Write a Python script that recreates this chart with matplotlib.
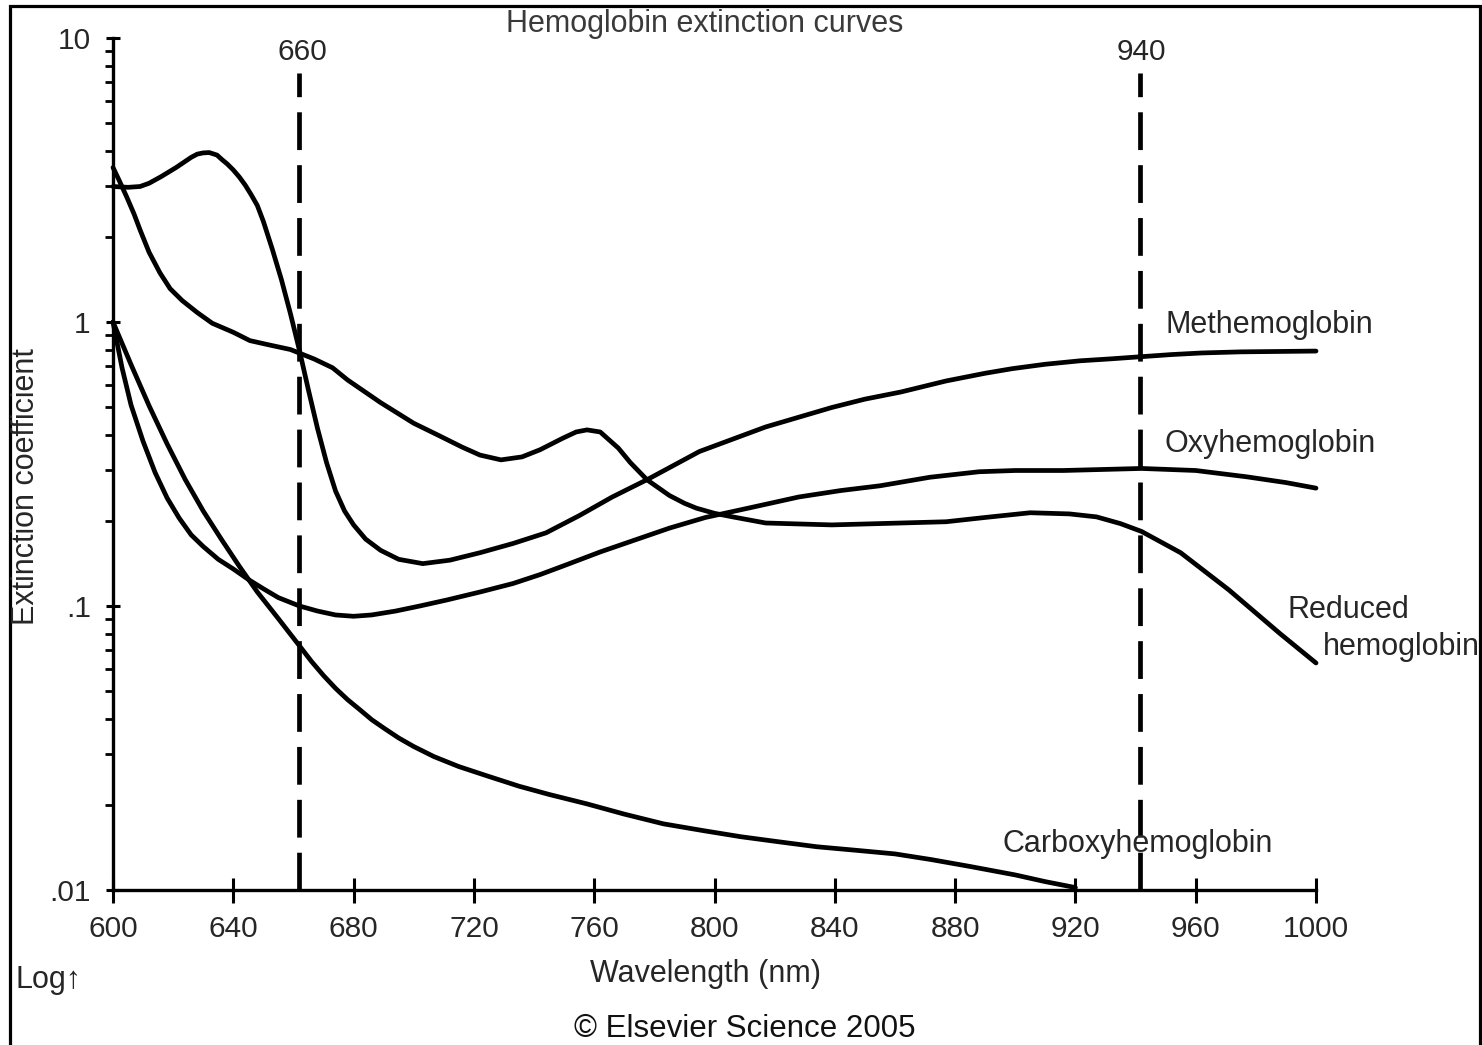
import matplotlib.pyplot as plt
from matplotlib.patches import Rectangle
from matplotlib.ticker import FixedLocator, LogLocator, NullFormatter

# figure size in pixels (dpi 100)
W, H = 1482, 1045

# ---- data ----
x_ticks = [600, 640, 680, 720, 760, 800, 840, 880, 920, 960, 1000]
y_ticks = [0.01, 0.1, 1, 10]
y_tick_labels = ['.01', '.1', '1', '10']

# vertical reference lines (positions as drawn) and their labels
ref_nm = [662, 941.5]
ref_labels = ['660', '940']
ref_top = 7.5

methb_nm = [600, 605, 609, 612, 616, 621, 626, 628, 630, 632, 634.6, 636, 638, 640, 642,
            644, 646, 648, 650, 653, 656, 659, 662, 665, 668, 671, 674, 677, 680, 684,
            689, 695, 703, 712, 722, 733, 744, 755, 766, 778, 795, 817, 839, 850, 862,
            877, 890, 899, 910, 921.5, 932, 942, 952, 962, 975, 990, 1000]
methb_val = [3.0, 2.98, 3.0, 3.08, 3.25, 3.5, 3.8, 3.9, 3.94, 3.95, 3.87, 3.75, 3.6,
             3.43, 3.24, 3.03, 2.8, 2.57, 2.26, 1.80, 1.41, 1.07, 0.794, 0.575, 0.422,
             0.32, 0.254, 0.216, 0.193, 0.172, 0.157, 0.146, 0.141, 0.145, 0.154, 0.166,
             0.181, 0.208, 0.242, 0.28, 0.35, 0.427, 0.50, 0.535, 0.567, 0.62, 0.66,
             0.685, 0.71, 0.73, 0.742, 0.755, 0.768, 0.778, 0.785, 0.788, 0.79]

redhb_nm = [600, 602, 604.6, 607, 609, 612, 615.6, 619, 623, 628, 633, 640, 645.5, 652,
            659, 667, 673, 678, 689, 700, 708, 716, 722, 729, 736, 742, 749.6, 754,
            757.6, 762, 768, 772, 777.6, 785, 790, 794, 800, 806, 817, 839, 862, 877,
            890, 905, 918, 927, 935, 942, 955, 971, 988, 1000]
redhb_val = [3.5, 3.16, 2.75, 2.4, 2.11, 1.76, 1.49, 1.31, 1.19, 1.08, 0.99, 0.92, 0.86,
             0.83, 0.80, 0.74, 0.69, 0.625, 0.52, 0.44, 0.40, 0.363, 0.34, 0.327, 0.335,
             0.355, 0.39, 0.41, 0.417, 0.41, 0.36, 0.32, 0.278, 0.245, 0.23, 0.221,
             0.212, 0.206, 0.196, 0.193, 0.196, 0.198, 0.205, 0.213, 0.211, 0.206,
             0.195, 0.183, 0.154, 0.114, 0.080, 0.063]

oxyhb_nm = [600, 603, 606, 610, 614, 618, 622, 626, 630, 635, 640, 645, 650, 655, 662,
            668, 674, 680, 686, 694, 702, 711, 722, 733, 742, 751, 762, 773, 785, 797,
            812, 828, 842, 855, 871.6, 888, 900, 916, 942, 960, 977, 990, 1000]
oxyhb_val = [1.0, 0.69, 0.51, 0.38, 0.295, 0.24, 0.204, 0.178, 0.162, 0.146, 0.135,
             0.124, 0.115, 0.107, 0.1, 0.096, 0.093, 0.092, 0.093, 0.096, 0.1, 0.105,
             0.112, 0.12, 0.129, 0.14, 0.155, 0.17, 0.188, 0.205, 0.222, 0.242, 0.255,
             0.265, 0.284, 0.297, 0.30, 0.30, 0.305, 0.30, 0.285, 0.272, 0.26]

cohb_nm = [600, 606, 612, 618, 624, 630, 636, 642, 648, 655, 662, 666, 670, 674, 678,
           682, 686, 690, 695, 700, 706.7, 715, 725, 735, 745, 757.6, 770, 783, 796,
           808.8, 821, 834, 847, 860, 872, 885, 900, 910, 920]
cohb_val = [1.0, 0.708, 0.507, 0.372, 0.279, 0.216, 0.172, 0.138, 0.112, 0.0902, 0.0724,
            0.0638, 0.0569, 0.0513, 0.0468, 0.0432, 0.0398, 0.0372, 0.0343, 0.032,
            0.0295, 0.0272, 0.0251, 0.0232, 0.0217, 0.0201, 0.0185, 0.0171, 0.0162,
            0.0154, 0.0148, 0.0142, 0.0138, 0.0134, 0.0128, 0.0121, 0.0113, 0.0107,
            0.0102]


def fx(x):
    return x / W


def fy(y):
    return 1 - y / H


plt.rcParams['font.family'] = ['Liberation Sans', 'DejaVu Sans']
txt = '#262626'
fs = 22
tick_fs = 21.5

fig = plt.figure(figsize=(W / 100, H / 100), dpi=100)
ax = fig.add_axes([fx(113), fy(890), (1316 - 113) / W, (890 - 38) / H])

curve_kw = dict(color='black', lw=3.4, solid_capstyle='round',
                solid_joinstyle='round', clip_on=False, zorder=3)
ax.plot(methb_nm, methb_val, **curve_kw)
ax.plot(redhb_nm, redhb_val, **curve_kw)
ax.plot(oxyhb_nm, oxyhb_val, **curve_kw)
ax.plot(cohb_nm, cohb_val, **curve_kw)

# dashed reference wavelengths
for nm in ref_nm:
    ax.plot([nm, nm], [0.01, ref_top], color='black', lw=3.4,
            linestyle=(0, (8, 3.2)), clip_on=False, zorder=2)

ax.set_yscale('log')
ax.set_xlim(600, 1000)
ax.set_ylim(0.01, 10)

ax.xaxis.set_major_locator(FixedLocator(x_ticks))
ax.set_xticklabels([str(t) for t in x_ticks])
ax.yaxis.set_major_locator(FixedLocator(y_ticks))
ax.set_yticklabels(y_tick_labels)
ax.yaxis.set_minor_locator(LogLocator(base=10, subs=range(2, 10)))
ax.yaxis.set_minor_formatter(NullFormatter())

ax.tick_params(axis='x', direction='inout', length=18, width=2.2, pad=9,
               labelsize=tick_fs, labelcolor=txt)
ax.tick_params(axis='y', which='major', direction='inout', length=10, width=2.2,
               pad=11, labelsize=tick_fs, labelcolor=txt)
ax.tick_params(axis='y', which='minor', direction='out', length=6, width=2.0)

for side in ['top', 'right']:
    ax.spines[side].set_visible(False)
for side in ['left', 'bottom']:
    ax.spines[side].set_linewidth(2.4)

# reference labels above the dashed lines
fig.text(fx(302), fy(60), ref_labels[0], ha='center', va='baseline', fontsize=tick_fs, color=txt)
fig.text(fx(1141), fy(60), ref_labels[1], ha='center', va='baseline', fontsize=tick_fs, color=txt)

# curve labels
fig.text(fx(1165), fy(333), 'Methemoglobin', ha='left', va='baseline', fontsize=fs, color=txt)
fig.text(fx(1165), fy(452), 'Oxyhemoglobin', ha='left', va='baseline', fontsize=fs, color=txt)
fig.text(fx(1288), fy(618), 'Reduced', ha='left', va='baseline', fontsize=fs, color=txt)
fig.text(fx(1323), fy(655), 'hemoglobin', ha='left', va='baseline', fontsize=fs, color=txt)
fig.text(fx(1003), fy(852), 'Carboxyhemoglobin', ha='left', va='baseline', fontsize=fs, color=txt)

# titles and axis labels
fig.text(fx(705), fy(32), 'Hemoglobin extinction curves', ha='center', va='baseline',
         fontsize=fs, color='#3a3a3a')
fig.text(fx(705), fy(982), 'Wavelength (nm)', ha='center', va='baseline', fontsize=fs, color=txt)
fig.text(fx(26), fy(487), 'Extinction coefficient', ha='center', va='center', rotation=90,
         fontsize=fs, color=txt)
fig.text(fx(15), fy(988), 'Log\u2191', ha='left', va='baseline', fontsize=fs, color=txt)
fig.text(fx(745), fy(1037), '\u00a9 Elsevier Science 2005', ha='center', va='baseline',
         fontsize=22.5, color='#111111')

# scan frame
fig.add_artist(Rectangle((fx(10), -0.05), (1480 - 10) / W, fy(6) + 0.05,
                         transform=fig.transFigure, fill=False, lw=2.3, ec='black'))

fig.savefig('out.png', dpi=100)
